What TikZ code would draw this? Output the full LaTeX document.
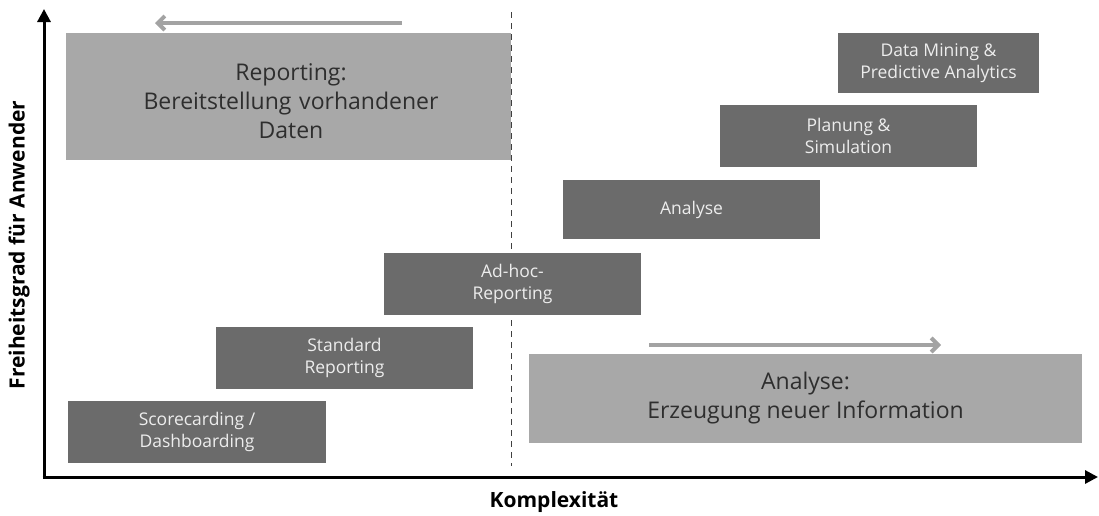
\documentclass[tikz,border=0pt]{standalone}
\usepackage{fontspec}
\setmainfont{Open Sans}
\usetikzlibrary{arrows.meta}
\definecolor{boxdark}{HTML}{6B6B6B}
\definecolor{boxlight}{HTML}{A8A8A8}
\definecolor{flowgray}{HTML}{A3A3A3}
\definecolor{inktext}{HTML}{2E2E2E}
\begin{document}
\begin{tikzpicture}[x=1pt,y=-1pt,
  stage/.style={fill=boxdark, text=white!93!black, inner sep=0pt,
    font=\fontsize{17.5}{22}\selectfont, align=center},
  phase/.style={fill=boxlight, text=inktext, inner sep=0pt,
    font=\fontsize{23}{29}\selectfont, align=center},
  axis/.style={line width=3pt, -{Triangle[length=13pt,width=13pt]}},
  flow/.style={draw=flowgray, line width=4pt,
    -{Straight Barb[length=7pt,width=14pt]}},
  axislabel/.style={font=\bfseries\fontsize{21}{24}\selectfont, text=black}]
\useasboundingbox (0,0) rectangle (1099,515);

% divider between reporting and analysis
\draw[black!75, line width=1pt, dash pattern=on 6pt off 5pt] (511,12) -- (511,466);

% the two phases
\node[phase, minimum width=445, minimum height=127] (rep) at (288.5,96.5) {};
\node[phase, fill=none, text width=440] (reptext) at (291,101) {Reporting:\\Bereitstellung vorhandener\\Daten};
\node[phase, minimum width=553, minimum height=89] (anl) at (805.5,398.5)
  {Analyse:\\Erzeugung neuer Information};

% the stages
\node[stage, minimum width=258, minimum height=62] (scd) at (197,432) {Scorecarding /\\Dashboarding};
\node[stage, minimum width=257, minimum height=62] (std) at (344.5,358) {Standard\\Reporting};
\node[stage, minimum width=257, minimum height=62] (adh) at (512.5,284) {Ad-hoc-\\Reporting};
\node[stage, minimum width=257, minimum height=59] (ana) at (691.5,209.5) {Analyse};
\node[stage, minimum width=257, minimum height=62] (pla) at (848.5,136) {Planung \&\\Simulation};
\node[stage, minimum width=201, minimum height=60] (dmi) at (938.5,63) {Data Mining \&\\Predictive Analytics};

% direction arrows
\coordinate (repA) at (402,23);
\coordinate (repB) at (155,23);
\coordinate (anlA) at (649,345);
\coordinate (anlB) at (941,345);
\draw[flow] (repA) -- (repB);
\draw[flow] (anlA) -- (anlB);

% axes
\coordinate (origin) at (44,477);
\coordinate (ytop) at (44,9);
\coordinate (xend) at (1098,477);
\draw[axis] ([xshift=-1.5pt]origin) -- (xend);
\draw[axis] ([yshift=1.5pt]origin) -- (ytop);
\node[axislabel, rotate=90] (ylab) at (19,245) {Freiheitsgrad für Anwender};
\node[axislabel] (xlab) at (554,502) {Komplexität};
\end{tikzpicture}
\end{document}
